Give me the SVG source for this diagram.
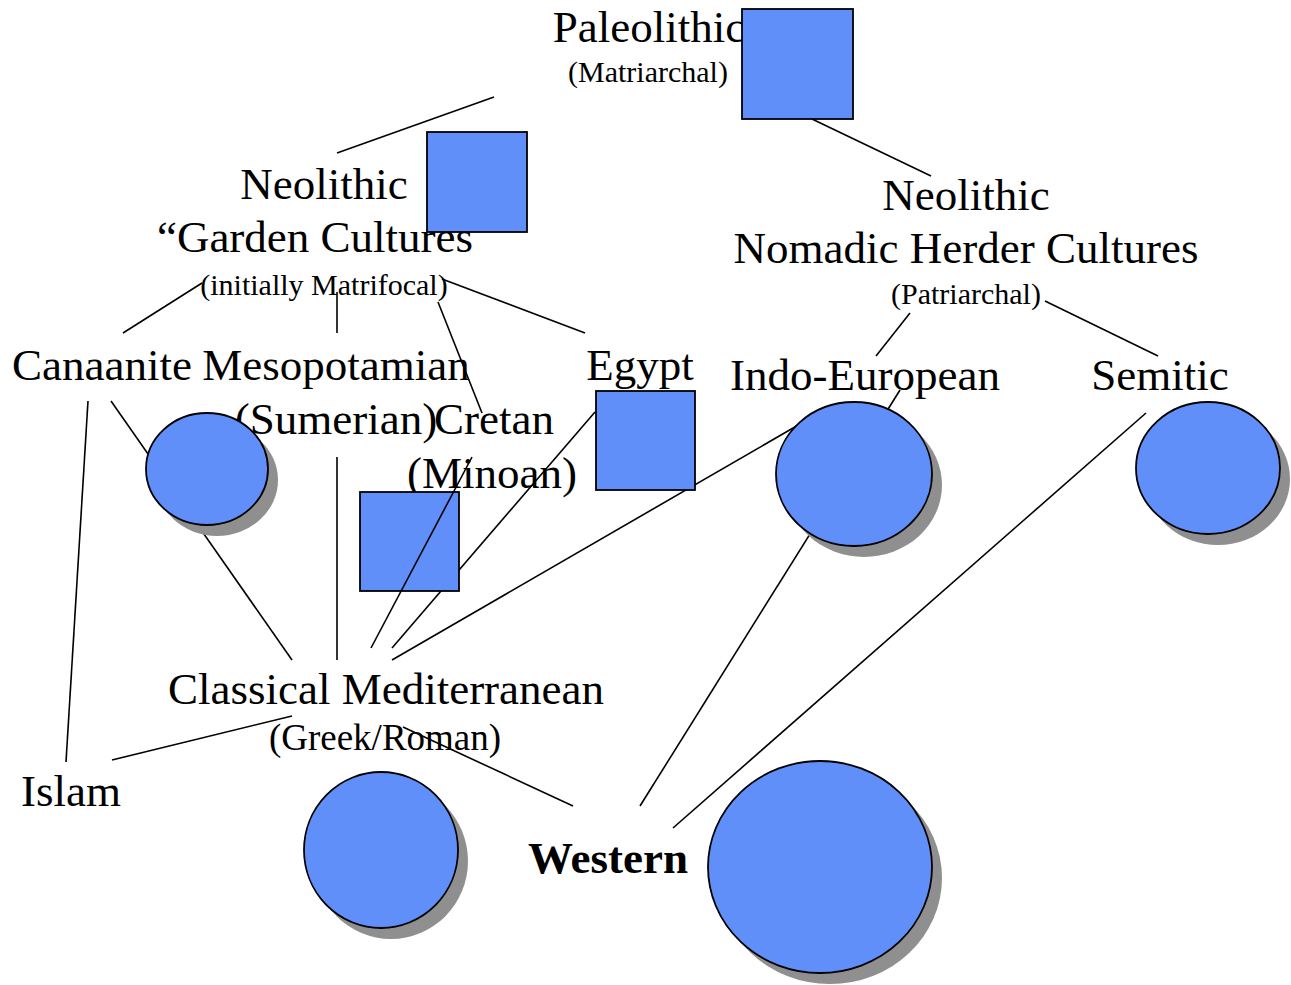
<svg xmlns="http://www.w3.org/2000/svg" width="1291" height="985" viewBox="0 0 1291 985">
<style>
.t{font-family:"Liberation Serif","Times New Roman",serif;fill:#000;text-anchor:middle}
.b{font-size:45px}
.s{font-size:30px}
.shape{fill:#608FFA;stroke:#000;stroke-width:1.8}
.shadow{fill:#8F8F8F}
.ln{stroke:#000;stroke-width:1.6;fill:none}
</style>
<rect width="1291" height="985" fill="#fff"/>
<g id="labels">
<text class="t b" x="649" y="42">Paleolithic</text>
<text class="t s" x="648" y="82">(Matriarchal)</text>
<text class="t b" x="324" y="199">Neolithic</text>
<text class="t b" x="315" y="252">“Garden Cultures</text>
<text class="t s" x="324" y="295">(initially Matrifocal)</text>
<text class="t b" x="966" y="210">Neolithic</text>
<text class="t b" x="966" y="263">Nomadic Herder Cultures</text>
<text class="t s" x="966" y="304">(Patriarchal)</text>
<text class="t b" x="102" y="380">Canaanite</text>
<text class="t b" x="336" y="380">Mesopotamian</text>
<text class="t b" x="640" y="380">Egypt</text>
<text class="t b" x="336" y="434">(Sumerian)</text>
<text class="t b" x="494" y="434">Cretan</text>
<text class="t b" x="492" y="488">(Minoan)</text>
<text class="t b" x="865" y="390">Indo-European</text>
<text class="t b" x="1160" y="390">Semitic</text>
<text class="t b" x="386" y="704">Classical Mediterranean</text>
<text class="t" x="385" y="750" font-size="37">(Greek/Roman)</text>
<text class="t b" x="71" y="806">Islam</text>
<text class="t b" x="608" y="873" font-weight="bold">Western</text>
</g>
<g id="connectors">
<line class="ln" x1="494" y1="97" x2="337" y2="153"/>
<line class="ln" x1="812" y1="119" x2="931" y2="176"/>
<line class="ln" x1="202" y1="283" x2="123" y2="333"/>
<line class="ln" x1="337" y1="292" x2="337" y2="333"/>
<line class="ln" x1="438" y1="302" x2="482" y2="413"/>
<line class="ln" x1="442" y1="279" x2="585" y2="333"/>
<line class="ln" x1="910" y1="313" x2="876" y2="356"/>
<line class="ln" x1="1045" y1="301" x2="1158" y2="356"/>
<line class="ln" x1="88" y1="401" x2="66" y2="762"/>
<line class="ln" x1="111" y1="401" x2="292" y2="660"/>
<line class="ln" x1="337" y1="457" x2="337" y2="660"/>
<line class="ln" x1="392" y1="648" x2="595" y2="412"/>
<line class="ln" x1="392" y1="660" x2="800" y2="424"/>
<line class="ln" x1="640" y1="806" x2="900" y2="390"/>
<line class="ln" x1="673" y1="828" x2="1146" y2="413"/>
<line class="ln" x1="292" y1="716" x2="112" y2="760"/>
<line class="ln" x1="403" y1="727" x2="573" y2="806"/>
</g>
<g id="paleolithic-box"><rect class="shape" x="742" y="9" width="111" height="110"/></g>
<g id="garden-box"><rect class="shape" x="427" y="132" width="100" height="100"/></g>
<g id="egypt-box"><rect class="shape" x="596" y="391" width="99" height="99"/></g>
<g id="cretan-box"><rect class="shape" x="360" y="492" width="99" height="99"/></g>
<g id="canaanite-circle">
<ellipse class="shadow" cx="217" cy="480" rx="61" ry="56"/>
<ellipse class="shape" cx="207" cy="469" rx="61" ry="56"/>
</g>
<g id="indo-european-circle">
<ellipse class="shadow" cx="864" cy="485" rx="78" ry="72"/>
<ellipse class="shape" cx="854" cy="474" rx="78" ry="72"/>
</g>
<g id="semitic-circle">
<ellipse class="shadow" cx="1218" cy="479" rx="72" ry="66"/>
<ellipse class="shape" cx="1208" cy="468" rx="72" ry="66"/>
</g>
<g id="classical-circle">
<ellipse class="shadow" cx="391" cy="861" rx="77" ry="78"/>
<ellipse class="shape" cx="381" cy="850" rx="77" ry="78"/>
</g>
<g id="western-circle">
<ellipse class="shadow" cx="830" cy="878" rx="112" ry="106"/>
<ellipse class="shape" cx="820" cy="867" rx="112" ry="106"/>
</g>
<g id="connectors-top">
<line class="ln" x1="371" y1="648" x2="472" y2="457"/>
</g>
</svg>
